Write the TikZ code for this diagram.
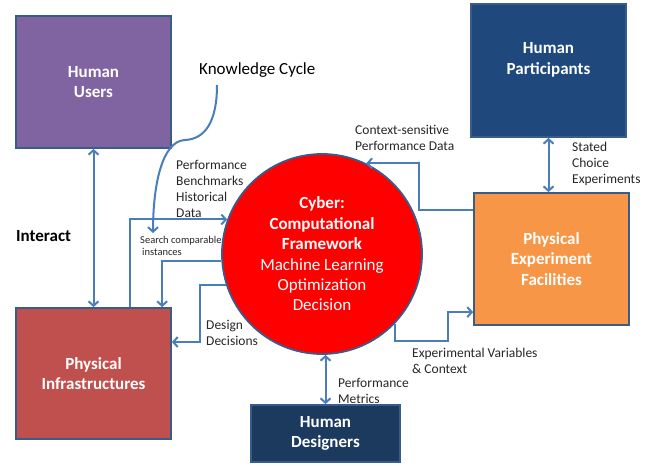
\documentclass[tikz,border=0pt]{standalone}
\usepackage{fontspec}
\setmainfont{Carlito}
\usetikzlibrary{arrows.meta,calc}
\definecolor{arrowblue}{HTML}{4A7EBB}
\definecolor{boxborder}{HTML}{385D8A}
\definecolor{purplebox}{HTML}{8064A2}
\definecolor{partbox}{HTML}{1F497D}
\definecolor{orangebox}{HTML}{F79646}
\definecolor{redbox}{HTML}{C0504D}
\definecolor{desbox}{HTML}{1B3A5E}
\definecolor{labelgray}{HTML}{262626}
\begin{document}
\begin{tikzpicture}[x=1pt,y=-1pt,
  >={Straight Barb[length=4.5pt,width=10pt]},
  box/.style={draw=boxborder, line width=1.8pt, inner sep=0pt, text=white,
    font=\bfseries\fontsize{17}{20.5}\selectfont, align=center},
  boxtext/.style={inner sep=0pt, text=white, font=\bfseries\fontsize{17}{20.5}\selectfont, align=center},
  arr/.style={draw=arrowblue, line width=2pt},
  lbl/.style={inner sep=0pt, anchor=west, align=left, text=labelgray,
    font=\fontsize{13.5}{16}\selectfont},
  small/.style={inner sep=0pt, anchor=west, align=left, text=labelgray,
    font=\fontsize{10.5}{12}\selectfont},
]
\useasboundingbox (0,0) rectangle (655,466);

% boxes
\node[box, fill=purplebox, minimum width=155pt, minimum height=132pt] (users) at (93.5,82) {Human\\Users};
\node[box, fill=partbox, minimum width=155pt, minimum height=133pt] (part) at (548.5,70.5) {};
\node[boxtext] (partlabel) at (548.5,60) {Human\\Participants};
\node[box, fill=orangebox, minimum width=155pt, minimum height=132pt] (pef) at (551.5,259) {Physical\\Experiment\\Facilities};
\node[box, fill=redbox, minimum width=155pt, minimum height=131pt] (pi) at (93.5,373.5) {Physical\\Infrastructures};
\node[box, fill=desbox, minimum width=149pt, minimum height=57pt] (hd) at (325.5,433.5) {Human\\Designers};

% circle
\node[circle, draw=boxborder, line width=1.8pt, fill=red, minimum size=200pt, inner sep=0pt,
  text=white, align=center, font=\fontsize{17}{20.4}\selectfont] (cyber) at (322,254)
  {\textbf{Cyber:}\\\textbf{Computational}\\\textbf{Framework}\\Machine Learning\\Optimization\\Decision};

% text labels
\node[inner sep=0pt, anchor=west, font=\fontsize{17}{20}\selectfont] (kc) at (199,70) {Knowledge Cycle};
\node[inner sep=0pt, anchor=west, font=\bfseries\fontsize{17}{20}\selectfont] (interact) at (16,236) {Interact};
\node[lbl] (pbhd) at (176,189) {Performance\\Benchmarks\\Historical\\Data};
\node[small] (search) at (140,246) {Search comparable\\\hspace*{2pt}instances};
\node[lbl] (cspd) at (355,138) {Context-sensitive\\Performance Data};
\node[lbl] (sce) at (572,164) {Stated\\Choice\\Experiments};
\node[lbl] (dd) at (206,333) {Design\\Decisions};
\node[lbl] (evc) at (412,361) {Experimental Variables\\\&\ Context};
\node[lbl] (pm) at (338,391) {Performance\\Metrics};

% coordinates
\coordinate (kcstart) at (217,85);
\coordinate (kcend) at (153,233);
\coordinate (ddbend) at (200,342);
\coordinate (csbend) at (419,210);
\coordinate (evbend) at (448,341);

% connectors
\draw[arr,<->] (users) -- (pi);
\draw[arr,<->] (part.south) -- (part.south |- pef.north);
\draw[arr,<->] (hd.north |- cyber.south) -- (hd.north);
\draw[arr,->] ($(pi.north west)+(115,0)$) |- (cyber.160.7);
\draw[arr,->] (cyber.184) -| ($(pi.north west)+(147,0)$);
\draw[arr,->] (cyber.198) -| (ddbend) -- (ddbend -| pi.east);
\draw[arr,->] (csbend -| pef.west) -- (csbend) |- (cyber.64.2);
\draw[arr,->] (cyber.-44.8) |- (evbend) |- ($(pef.north west)+(0,120)$);
\draw[arr,->] (kcstart) .. controls (217,122) and (205,139) .. (185,140)
  .. controls (162,141) and (153,185) .. (kcend);
\end{tikzpicture}
\end{document}
